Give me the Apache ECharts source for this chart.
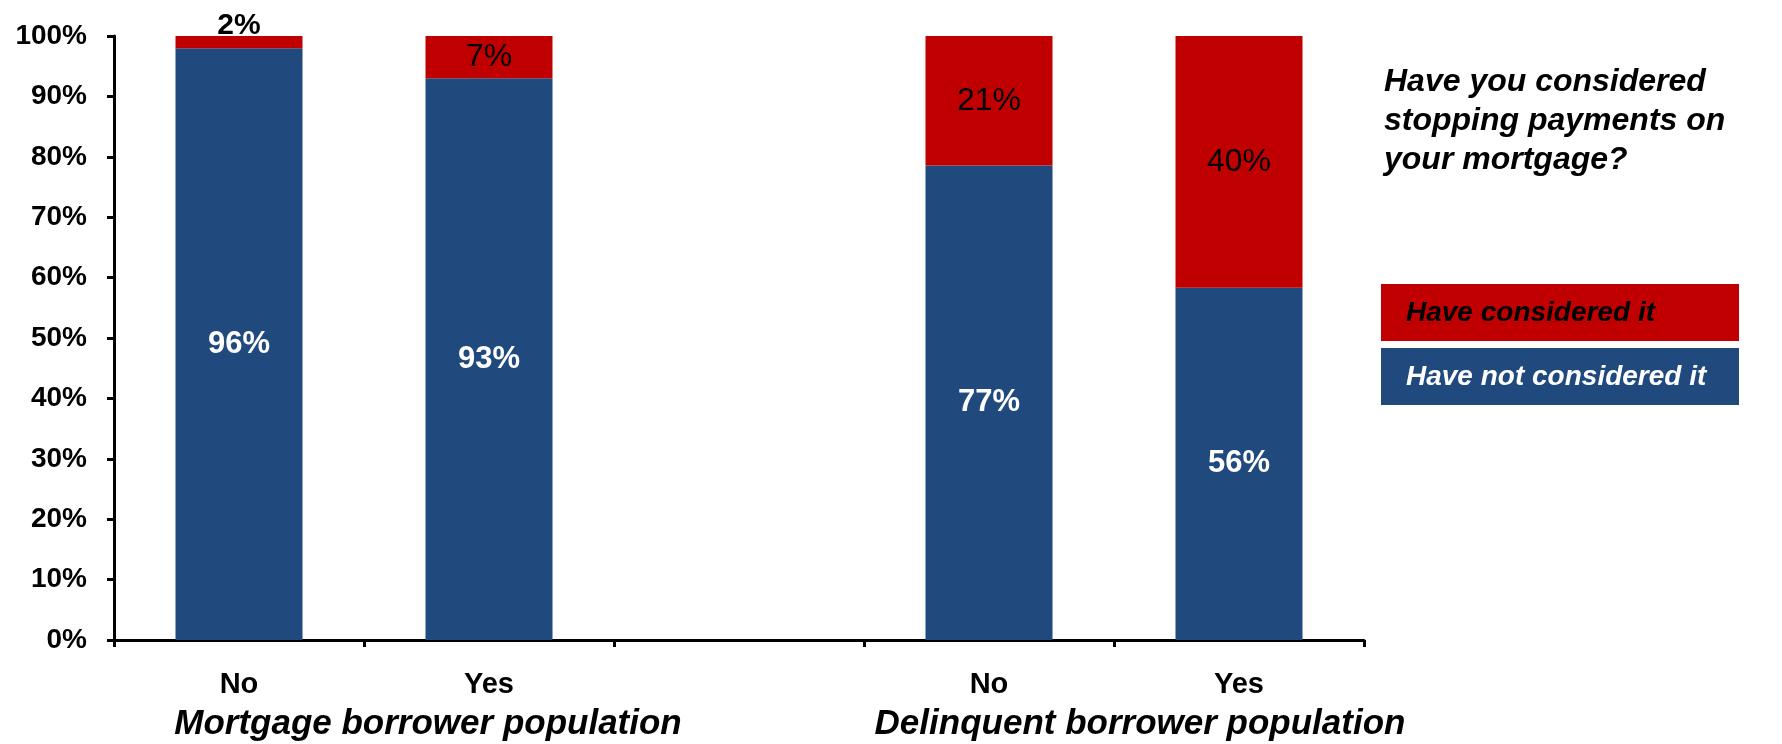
<!DOCTYPE html>
<html>
<head>
<meta charset="utf-8">
<script src="https://cdn.jsdelivr.net/npm/echarts@6/dist/echarts.min.js"></script>
<style>
html,body{margin:0;padding:0;background:#fff;}
#chart{width:1782px;height:744px;}
</style>
</head>
<body>
<div id="chart"></div>
<script>
// ---- data ----
const categories = ['No', 'Yes', '', 'No', 'Yes'];
const notConsidered = [96, 93, null, 77, 56];   // % shown on blue segments
const considered = [2, 7, null, 21, 40];        // % shown on red segments
const groupLabels = ['Mortgage borrower population', 'Delinquent borrower population'];
const seriesNames = ['Have considered it', 'Have not considered it'];
const questionLines = ['Have you considered', 'stopping payments on', 'your mortgage?'];

const BLUE = '#204A7D';
const RED = '#C00000';
const FONT = '"Liberation Sans", Arial, sans-serif';

// bars are drawn normalised to 100% (labels show the surveyed values)
function share(a, b) { return (a == null || b == null) ? null : a / (a + b) * 100; }

const blueData = notConsidered.map((v, i) =>
  v == null ? null : { value: share(v, considered[i]), raw: v });
const redData = considered.map((v, i) => {
  if (v == null) return null;
  const item = { value: share(v, notConsidered[i]), raw: v };
  if (v < 5) item.label = { position: 'top', distance: -5, fontWeight: 'bold', fontSize: 30 };
  return item;
});

const chart = echarts.init(document.getElementById('chart'), null, { renderer: 'canvas' });
chart.setOption({
  animation: false,
  backgroundColor: '#fff',
  grid: { left: 114, right: 418, top: 36, bottom: 104, containLabel: false },
  xAxis: {
    type: 'category',
    data: categories,
    boundaryGap: true,
    axisLine: { lineStyle: { color: '#000', width: 3 } },
    axisTick: { show: true, interval: 0, length: 7, lineStyle: { color: '#000', width: 3 } },
    axisLabel: { interval: 0, margin: 30, color: '#000', fontFamily: FONT, fontWeight: 'bold', fontSize: 29 }
  },
  yAxis: {
    type: 'value',
    min: 0, max: 100, interval: 10,
    splitLine: { show: false },
    axisLine: { show: true, lineStyle: { color: '#000', width: 3 } },
    axisTick: { show: true, length: 7, lineStyle: { color: '#000', width: 3 } },
    axisLabel: { formatter: '{value}%', margin: 27, color: '#000', fontFamily: FONT, fontWeight: 'bold', fontSize: 28 }
  },
  series: [
    {
      name: seriesNames[1], type: 'bar', stack: 'total', barWidth: 127,
      itemStyle: { color: BLUE },
      label: {
        show: true, position: 'inside', color: '#fff', fontFamily: FONT, fontWeight: 'bold', fontSize: 31,
        formatter: p => p.data && p.data.raw != null ? p.data.raw + '%' : ''
      },
      data: blueData
    },
    {
      name: seriesNames[0], type: 'bar', stack: 'total', barWidth: 127,
      itemStyle: { color: RED },
      label: {
        show: true, position: 'inside', color: '#000', fontFamily: FONT, fontSize: 32,
        formatter: p => p.data && p.data.raw != null ? p.data.raw + '%' : ''
      },
      data: redData
    }
  ],
  graphic: [
    { type: 'text', style: { x: 428, y: 724, text: groupLabels[0], textAlign: 'center', textVerticalAlign: 'middle', fill: '#000', font: 'italic bold 35px ' + FONT } },
    { type: 'text', style: { x: 1140, y: 724, text: groupLabels[1], textAlign: 'center', textVerticalAlign: 'middle', fill: '#000', font: 'italic bold 35px ' + FONT } },
    { type: 'text', style: { x: 1384, y: 63, text: questionLines.join('\n'), lineHeight: 39, textVerticalAlign: 'top', fill: '#000', font: 'italic bold 32px ' + FONT } },
    { type: 'rect', shape: { x: 1381, y: 284, width: 358, height: 57 }, style: { fill: RED } },
    { type: 'text', style: { x: 1406, y: 313, text: seriesNames[0], textVerticalAlign: 'middle', fill: '#000', font: 'italic bold 28px ' + FONT } },
    { type: 'rect', shape: { x: 1381, y: 348, width: 358, height: 57 }, style: { fill: BLUE } },
    { type: 'text', style: { x: 1406, y: 377, text: seriesNames[1], textVerticalAlign: 'middle', fill: '#fff', font: 'italic bold 28px ' + FONT } }
  ]
});
</script>
</body>
</html>
